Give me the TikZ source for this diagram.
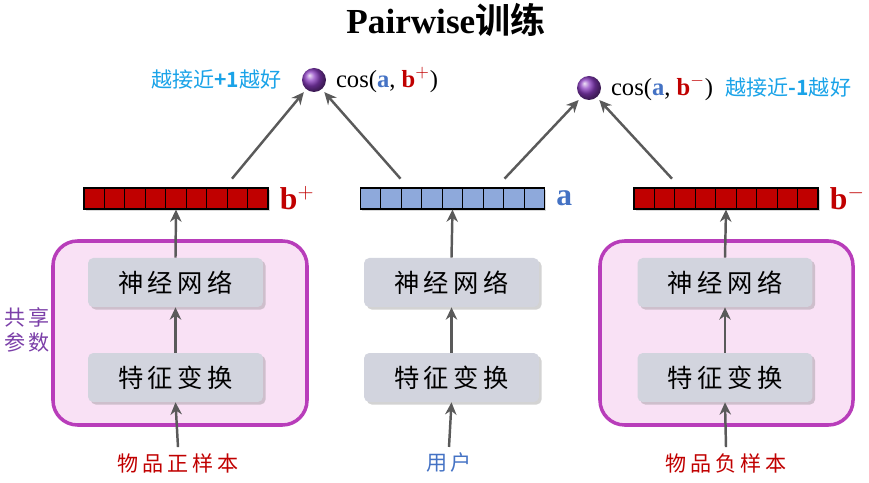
\documentclass[tikz,border=0pt]{standalone}
\usepackage{fontspec}
\setmainfont{Liberation Serif}
\newfontfamily\cjk{Noto Sans CJK SC}[BoldFont={Noto Sans CJK SC Bold}]
\newfontfamily\cjkw{Noto Sans CJK SC}[LetterSpace=18]
\usetikzlibrary{arrows.meta,shadows,positioning,calc}

\definecolor{vecred}{HTML}{C00000}
\definecolor{vecblue}{HTML}{8EA9DB}
\definecolor{ablue}{HTML}{4472C4}
\definecolor{shpurple}{HTML}{B83DBA}
\definecolor{sharetxt}{HTML}{7B3FA8}
\definecolor{shpink}{HTML}{F9E1F5}
\definecolor{boxgray}{HTML}{D2D4DE}
\definecolor{hintcyan}{HTML}{1AA3E8}
\definecolor{arrgray}{HTML}{5A5A5A}
\definecolor{sphcol}{HTML}{8A3CC0}

\tikzset{
  netbox/.style={fill=boxgray,rounded corners=3pt,minimum width=3.5cm,minimum height=0.98cm,
    drop shadow={opacity=0.35,shadow xshift=1.5pt,shadow yshift=-1.5pt},font=\cjkw\Large},
  vecbar/.style={draw=black,line width=0.6pt,minimum width=3.68cm,minimum height=0.42cm,inner sep=0pt,
    drop shadow={opacity=0.3,shadow xshift=1pt,shadow yshift=-1pt}},
  flow/.style={-{Stealth[length=7pt,width=6.5pt]},draw=arrgray,line width=1.4pt},
  sharebox/.style={draw=shpurple,line width=2pt,fill=shpink,rounded corners=14pt},
  simnode/.style={circle,minimum size=0.48cm,inner sep=0pt,shading=ball,ball color=sphcol},
  hint/.style={font=\cjk\large,text=hintcyan},
  veclabel/.style={font=\bfseries\fontsize{18}{20}\selectfont,anchor=west},
  inlabel/.style={font=\cjkw\large},
}

\begin{document}
\begin{tikzpicture}[x=0.02cm,y=0.02cm]
\useasboundingbox (0,0) rectangle (869,483);
% --- title ---
\node[font=\bfseries\fontsize{20}{22}\selectfont] (title) at (446,463) {Pairwise{\cjk 训练}};
% --- shared parameter areas ---
\filldraw[sharebox] (53,58) rectangle (307,242);
\filldraw[sharebox] (600,58) rectangle (853,242);
\node[font=\cjkw\large,text=sharetxt,align=center] (share) at (27,153) {共享\\参数};
% --- boxes ---
\node[netbox] (fpos) at (175.5,105.5) {特征变换};
\node[netbox] (npos) at (175.5,200.5) {神经网络};
\node[netbox] (fusr) at (451.5,105.5) {特征变换};
\node[netbox] (nusr) at (451.5,200.5) {神经网络};
\node[netbox] (fneg) at (725,105.5) {特征变换};
\node[netbox] (nneg) at (725,200.5) {神经网络};
% --- vectors ---
\node[vecbar,fill=vecred] (bpos) at (176,284.5) {};
\node[vecbar,fill=vecblue] (vusr) at (452.5,284.5) {};
\node[vecbar,fill=vecred] (bneg) at (726,284.5) {};
\foreach \v in {bpos,vusr,bneg}
  \foreach \k in {1,...,8}
    \draw[line width=0.6pt] ($(\v.south west)!\k/9!(\v.south east)$) -- ($(\v.north west)!\k/9!(\v.north east)$);
\node[veclabel,text=vecred] (lpos) at ([xshift=3pt]bpos.east) {b$^{+}$};
\node[veclabel,text=ablue] (lusr) at ([xshift=3pt]vusr.east) {a};
\node[veclabel,text=vecred] (lneg) at ([xshift=3pt]bneg.east) {b$^{-}$};
% --- inputs ---
\node[inlabel,text=vecred] (ipos) at (178,20) {物品正样本};
\node[inlabel,text=ablue] (iusr) at (449,20) {用户};
\node[inlabel,text=vecred] (ineg) at (726,20) {物品负样本};
% --- similarity ---
\node[simnode] (spos) at (314,403) {};
\node[simnode] (sneg) at (589,395) {};
\node[anchor=west,font=\fontsize{14}{16}\selectfont] (cpos) at ([xshift=2pt]spos.east)
  {cos({\color{ablue}\bfseries a}, {\color{vecred}\bfseries b$^{+}$})};
\node[anchor=west,font=\fontsize{14}{16}\selectfont] (cneg) at ([xshift=2pt]sneg.east)
  {cos({\color{ablue}\bfseries a}, {\color{vecred}\bfseries b$^{-}$})};
\node[hint,anchor=east] (hpos) at ([xshift=-8pt]spos.west) {越接近\textbf{+1}越好};
\node[hint,anchor=west] (hneg) at ([xshift=0pt]cneg.east) {越接近\textbf{-1}越好};
% --- arrows ---
\foreach \i/\f/\n/\b in {ipos/fpos/npos/bpos,iusr/fusr/nusr/vusr,ineg/fneg/nneg/bneg}{
  \draw[flow] (\i.north) -- (\f.south);
  \draw[flow] (\f.north) -- (\n.south);
  \draw[flow] (\n.north) -- (\b.south);
}
\draw[flow,shorten >=2pt] ([xshift=1.12cm,yshift=5pt]bpos.north) -- (spos.-130);
\draw[flow,shorten >=2pt] ([xshift=-1.04cm,yshift=5pt]vusr.north) -- (spos.-50);
\draw[flow,shorten >=2pt] ([xshift=1.04cm,yshift=5pt]vusr.north) -- (sneg.-130);
\draw[flow,shorten >=2pt] ([xshift=-1.08cm,yshift=5pt]bneg.north) -- (sneg.-50);
\end{tikzpicture}
\end{document}
